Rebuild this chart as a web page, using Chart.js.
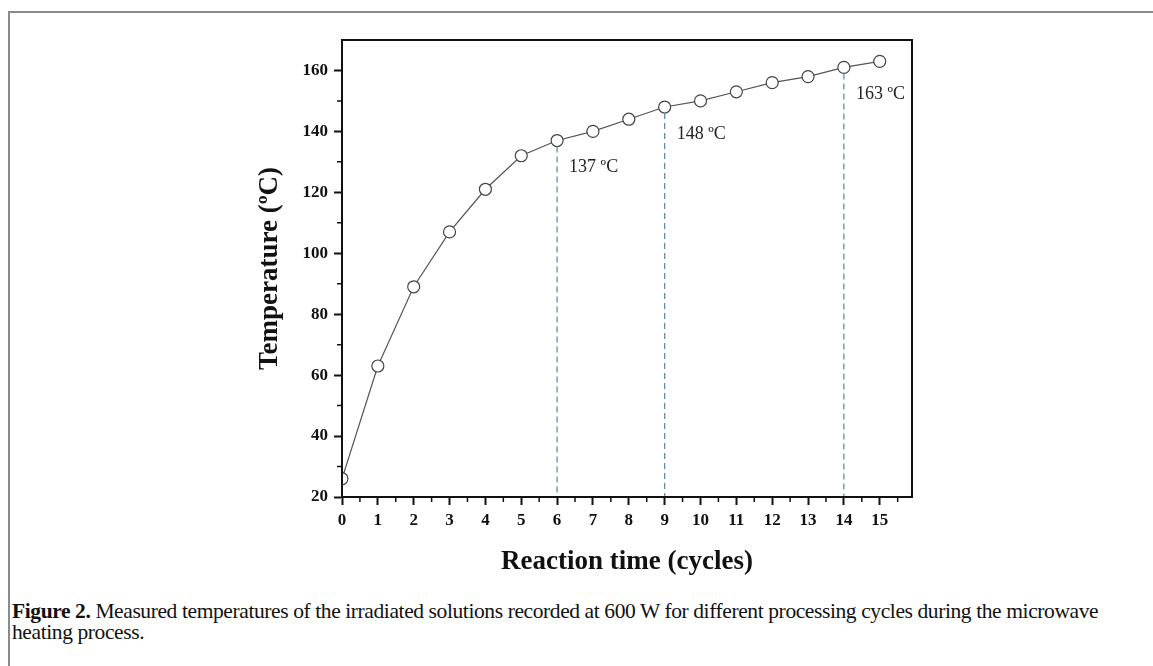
<!DOCTYPE html>
<html>
<head>
<meta charset="utf-8">
<script src="https://cdn.jsdelivr.net/npm/chart.js@4"></script>
<style>
  body { margin: 0; background: #fff; }
  #frame {
    position: absolute; left: 8px; top: 11px; width: 1145px; height: 655px;
    border-top: 2px solid #8a8a8a; border-left: 2px solid #8a8a8a;
  }
  #wrap { position: absolute; left: 0; top: 0; width: 1153px; height: 590px; }
  #caption {
    position: absolute; left: 12px; top: 601px; width: 1115px;
    font-family: "Liberation Serif", serif; font-size: 21.5px; line-height: 21px;
    color: #111; letter-spacing: -0.4px;
  }
</style>
</head>
<body>
<div id="frame"></div>
<div id="wrap"><canvas id="tempChart"></canvas></div>
<div id="caption"><b>Figure 2.</b> Measured temperatures of the irradiated solutions recorded at 600 W for different processing cycles during the microwave heating process.</div>
<script>
// data
const cycles = [0, 1, 2, 3, 4, 5, 6, 7, 8, 9, 10, 11, 12, 13, 14, 15];
const temperatures = [26, 63, 89, 107, 121, 132, 137, 140, 144, 148, 150, 153, 156, 158, 161, 163];
const markerCycles = [6, 9, 14];
const markerLabels = ["137 \u00baC", "148 \u00baC", "163 \u00baC"];

const serif = "'Liberation Serif', 'Times New Roman', serif";

// dashed guide lines, labels, frame and minor ticks
const extras = {
  id: "extras",
  afterDatasetsDraw(chart) {
    const ctx = chart.ctx;
    const xs = chart.scales.x;
    const ys = chart.scales.y;
    const area = chart.chartArea;
    ctx.save();
    ctx.strokeStyle = "#5f8db3";
    ctx.lineWidth = 1.3;
    ctx.setLineDash([6, 4]);
    markerCycles.forEach(function (c, i) {
      const t = temperatures[cycles.indexOf(c)];
      const px = xs.getPixelForValue(c);
      const py = ys.getPixelForValue(t);
      ctx.beginPath();
      ctx.moveTo(px, py + 6);
      ctx.lineTo(px, area.bottom);
      ctx.stroke();
      ctx.fillStyle = "#222";
      ctx.font = "18px " + serif;
      ctx.textBaseline = "middle";
      ctx.fillText(markerLabels[i], px + 12, py + 27);
    });
    ctx.setLineDash([]);
    // frame
    ctx.strokeStyle = "#111";
    ctx.lineWidth = 2;
    ctx.strokeRect(area.left, area.top, area.right - area.left, area.bottom - area.top);
    // minor ticks
    ctx.lineWidth = 1.5;
    ctx.beginPath();
    for (let v = 0.5; v < 15.6; v += 1) {
      const px = xs.getPixelForValue(v);
      ctx.moveTo(px, area.bottom);
      ctx.lineTo(px, area.bottom + 5);
    }
    for (let v = 30; v < 170; v += 20) {
      const py = ys.getPixelForValue(v);
      ctx.moveTo(area.left, py);
      ctx.lineTo(area.left - 5, py);
    }
    ctx.stroke();
    ctx.restore();
  },
};

const ctx = document.getElementById("tempChart").getContext("2d");
new Chart(ctx, {
  type: "line",
  data: {
    datasets: [
      {
        data: cycles.map(function (c, i) { return { x: c, y: temperatures[i] }; }),
        borderColor: "#555",
        borderWidth: 1.2,
        pointRadius: 6,
        pointBackgroundColor: "#fff",
        pointBorderColor: "#444",
        pointBorderWidth: 1.2,
        clip: 0,
      },
    ],
  },
  options: {
    responsive: true,
    maintainAspectRatio: false,
    animation: false,
    layout: { padding: { left: 250, right: 241, top: 40, bottom: 8 } },
    plugins: { legend: { display: false }, tooltip: { enabled: false } },
    scales: {
      x: {
        type: "linear",
        min: 0,
        max: 15.9,
        afterBuildTicks: function (axis) {
          axis.ticks = cycles.map(function (c) { return { value: c }; });
        },
        afterFit: function (axis) { axis.height = 85; },
        ticks: {
          color: "#111",
          font: { family: serif, size: 17, weight: "bold" },
          padding: 5,
          maxRotation: 0,
        },
        grid: { drawOnChartArea: false, tickLength: 8, tickColor: "#111", tickWidth: 2 },
        border: { color: "#111", width: 2 },
        title: {
          display: true,
          text: "Reaction time (cycles)",
          color: "#111",
          font: { family: serif, size: 27, weight: "bold" },
          padding: { top: 12 },
        },
      },
      y: {
        min: 20,
        max: 170,
        afterBuildTicks: function (axis) {
          axis.ticks = [20, 40, 60, 80, 100, 120, 140, 160].map(function (v) { return { value: v }; });
        },
        afterFit: function (axis) { axis.width = 92; },
        ticks: {
          color: "#111",
          font: { family: serif, size: 17, weight: "bold" },
          padding: 6,
        },
        grid: { drawOnChartArea: false, tickLength: 8, tickColor: "#111", tickWidth: 2 },
        border: { color: "#111", width: 2 },
        title: {
          display: true,
          text: "Temperature (\u00baC)",
          color: "#111",
          font: { family: serif, size: 27, weight: "bold" },
          padding: { bottom: 0 },
        },
      },
    },
  },
  plugins: [extras],
});
</script>
</body>
</html>
